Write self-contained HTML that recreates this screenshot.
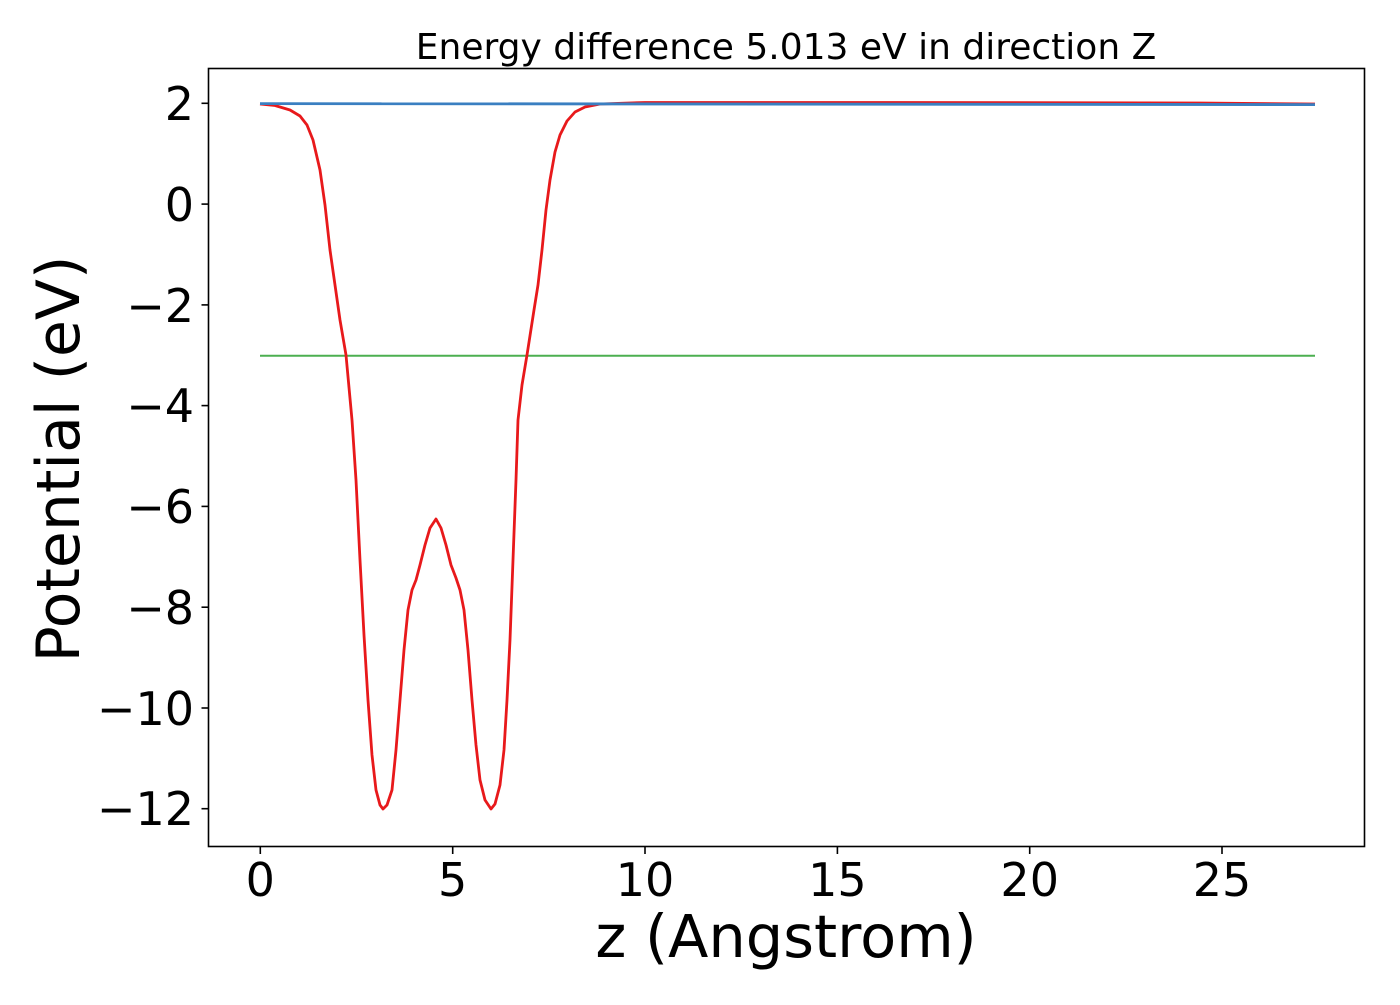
<!DOCTYPE html>
<html><head><meta charset="utf-8"><style>
html,body{margin:0;padding:0;background:#fff;}
svg text{font-family:"DejaVu Sans","Liberation Sans",sans-serif;fill:#000;}
</style></head><body>
<svg width="1400" height="1000" viewBox="0 0 1400 1000" xmlns="http://www.w3.org/2000/svg">
<rect width="1400" height="1000" fill="#fff"/>
<text x="786" y="59" font-size="36" text-anchor="middle">Energy difference 5.013 eV in direction Z</text>
<line x1="260" y1="355.7" x2="1315" y2="355.7" stroke="#4caf50" stroke-width="2"/>
<polyline fill="none" stroke="#e8191b" stroke-width="2.8" stroke-linejoin="round" points="260,104 275,105.5 290,110 300,116 307,125 313,140 320,170 325,205 330,250 335,285 340,320 346,355 352,420 356,480 360,560 364,635 368,700 372,755 376,790 380,805 383,809 387,805 392,790 396,750 400,700 404,650 408,610 412,590 416,580 420,565 425,545 430,528 436,519 441,528 446,545 451,565 456,578 460,590 464,610 468,650 472,700 476,745 480,780 485,800 491,809 495,804 500,785 504,750 507,700 510,640 513,560 516,480 518,420 522,385 527,355 534,310 538,285 542,250 546,210 550,180 555,152 560,135 567,121 575,112 585,107 600,104 645,102.5 900,102.5 1200,103 1315,104"/>
<polyline fill="none" stroke="#3a7fc1" stroke-width="2.8" points="260,103.6 1315,104.6"/>
<rect x="208.5" y="68.5" width="1156" height="778" fill="none" stroke="#000" stroke-width="1.6"/>
<g stroke="#000" stroke-width="1.6">
<line x1="260.3" y1="847" x2="260.3" y2="854"/>
<line x1="452.7" y1="847" x2="452.7" y2="854"/>
<line x1="645" y1="847" x2="645" y2="854"/>
<line x1="837.4" y1="847" x2="837.4" y2="854"/>
<line x1="1029.7" y1="847" x2="1029.7" y2="854"/>
<line x1="1222" y1="847" x2="1222" y2="854"/>
<line x1="201.5" y1="103.3" x2="208.5" y2="103.3"/>
<line x1="201.5" y1="204.1" x2="208.5" y2="204.1"/>
<line x1="201.5" y1="304.9" x2="208.5" y2="304.9"/>
<line x1="201.5" y1="405.6" x2="208.5" y2="405.6"/>
<line x1="201.5" y1="506.4" x2="208.5" y2="506.4"/>
<line x1="201.5" y1="607.2" x2="208.5" y2="607.2"/>
<line x1="201.5" y1="708" x2="208.5" y2="708"/>
<line x1="201.5" y1="808.7" x2="208.5" y2="808.7"/>
</g>
<g font-size="46" text-anchor="middle">
<text x="260.3" y="896">0</text>
<text x="452.7" y="896">5</text>
<text x="645" y="896">10</text>
<text x="837.4" y="896">15</text>
<text x="1029.7" y="896">20</text>
<text x="1222" y="896">25</text>
</g>
<g font-size="46" text-anchor="end">
<text x="194" y="120">2</text>
<text x="194" y="221">0</text>
<text x="194" y="322">−2</text>
<text x="194" y="422">−4</text>
<text x="194" y="523">−6</text>
<text x="194" y="624">−8</text>
<text x="194" y="725">−10</text>
<text x="194" y="825">−12</text>
</g>
<text x="786" y="957" font-size="59" text-anchor="middle">z (Angstrom)</text>
<text transform="translate(79,459) rotate(-90)" font-size="60" text-anchor="middle">Potential (eV)</text>
</svg>
</body></html>
